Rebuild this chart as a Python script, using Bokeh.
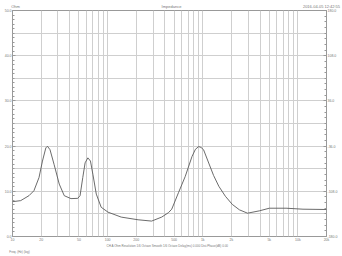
from bokeh.plotting import figure
from bokeh.models import (LinearAxis, Range1d, FixedTicker, LinearScale)
from bokeh.embed import file_html
from bokeh.resources import INLINE

# ---- data ----
freq_hz = [10, 12.2, 14.9, 16.8, 19.0, 20.65, 22.4, 23.3, 24.8, 27.4, 31.0, 35.0,
           41.2, 48.5, 51.3, 54.8, 58.0, 62.0, 66.0, 70.0, 76.0, 85.6, 101, 139,
           209, 290, 370, 436, 472, 556, 655, 771, 838, 907, 960, 1020, 1156,
           1300, 1477, 1730, 2045, 2430, 2955, 3930, 5010, 7517, 11320, 20000]
impedance_ohm = [7.7, 7.94, 9.03, 10.13, 13.04, 16.69, 19.6, 19.97, 19.2, 15.9,
                 11.6, 9.03, 8.38, 8.44, 9.03, 13.04, 16.3, 17.4, 16.7, 13.76,
                 9.38, 6.47, 5.38, 4.29, 3.7, 3.41, 4.29, 5.27, 6.04, 9.7, 13.3,
                 17.7, 19.3, 19.9, 19.7, 19.2, 16.25, 13.5, 11.1, 8.9, 7.1, 5.9,
                 5.16, 5.67, 6.26, 6.26, 6.04, 5.97]
x_tick_values = [10, 20, 50, 100, 200, 500, 1000, 2000, 5000, 10000, 20000]
x_tick_labels = ["10", "20", "50", "100", "200", "500", "1k", "2k", "5k", "10k", "20k"]
left_ticks = [0, 10, 20, 30, 40, 50]
left_labels = ["0.0", "10.0", "20.0", "30.0", "40.0", "50.0"]
right_ticks = [-180, -108, -36, 36, 108, 180]
right_labels = ["-180.0", "-108.0", "-36.0", "36.0", "108.0", "180.0"]
title_left = "Ohm"
title_center = "Impedance"
title_right = "2016-04-05 12:42:55"
footer = "CH A  Ohm  Resolution 1/6 Octave  Smooth 1/6 Octave  Delay(ms) 0.000  Dist.Phase(dB) 0.00"
x_caption = "Freq. (Hz) (log)"

FONT = "Liberation Sans"
GRID = "#cfcfcf"
TXT = "#777777"
FRAME_W = 314

p = figure(width=342, height=256, x_axis_type="log", x_range=(10, 20000),
           y_range=(0, 50), output_backend="svg", toolbar_location=None,
           min_border_left=12, min_border_right=16, min_border_top=9,
           min_border_bottom=18)
p.background_fill_color = "white"
p.outline_line_color = "#999999"
p.outline_line_width = 1

grid_x = []
for dec in [10, 100, 1000, 10000]:
    for k in range(1, 10):
        v = dec * k
        if v <= 20000:
            grid_x.append(v)
p.xgrid.ticker = FixedTicker(ticks=grid_x)
p.xgrid.grid_line_color = GRID
p.ygrid.ticker = FixedTicker(ticks=[i * 5 for i in range(11)])
p.ygrid.grid_line_color = GRID

def style_axis(ax, size="3.5px"):
    ax.major_label_text_font = FONT
    ax.major_label_text_font_size = size
    ax.major_label_text_color = TXT
    ax.axis_line_color = None
    ax.major_tick_out = 0
    ax.minor_tick_out = 0
    ax.major_tick_in = 3
    ax.minor_tick_in = 2
    ax.major_tick_line_color = "#999999"
    ax.minor_tick_line_color = "#999999"
    ax.major_label_standoff = 1

def bare(ax):
    ax.major_tick_in = 0
    ax.minor_tick_in = 0
    ax.major_tick_line_color = None
    ax.minor_tick_line_color = None

xa = p.xaxis[0]
xa.ticker = FixedTicker(ticks=x_tick_values)
xa.major_label_overrides = {v: l for v, l in zip(x_tick_values, x_tick_labels)}
style_axis(xa)
xa.major_tick_in = 0
xa.axis_label = footer
xa.axis_label_text_font = FONT
xa.axis_label_text_font_size = "3px"
xa.axis_label_text_font_style = "normal"
xa.axis_label_text_color = TXT
xa.axis_label_standoff = 0

ya = p.yaxis[0]
ya.ticker = FixedTicker(ticks=left_ticks, minor_ticks=list(range(0, 51)))
ya.major_label_overrides = {v: l for v, l in zip(left_ticks, left_labels)}
style_axis(ya)

p.extra_y_ranges = {"phase": Range1d(-180, 180)}
ra = LinearAxis(y_range_name="phase")
ra.ticker = FixedTicker(ticks=right_ticks, minor_ticks=list(range(-180, 181, 9)))
ra.major_label_overrides = {v: l for v, l in zip(right_ticks, right_labels)}
style_axis(ra)
p.add_layout(ra, "right")

# header and caption texts, placed as labels of pixel-positioned helper axes
p.extra_x_ranges = {"px": Range1d(0, FRAME_W)}
p.extra_x_scales = {"px": LinearScale()}
head_pos = [3, 159, 309]
head = LinearAxis(x_range_name="px", ticker=FixedTicker(ticks=head_pos))
head.major_label_overrides = {k: t for k, t in zip(head_pos,
                              [title_left, title_center, title_right])}
style_axis(head, "4px")
bare(head)
head.major_label_standoff = 2
p.add_layout(head, "above")

cap_pos = [7]
cap = LinearAxis(x_range_name="px", ticker=FixedTicker(ticks=cap_pos))
cap.major_label_overrides = {cap_pos[0]: x_caption}
style_axis(cap, "3px")
bare(cap)
cap.major_label_standoff = 0
p.add_layout(cap, "below")

p.line(freq_hz, impedance_ohm, line_color="#5a5a5a", line_width=0.9)

open("out.html", "w").write(file_html(p, INLINE))
